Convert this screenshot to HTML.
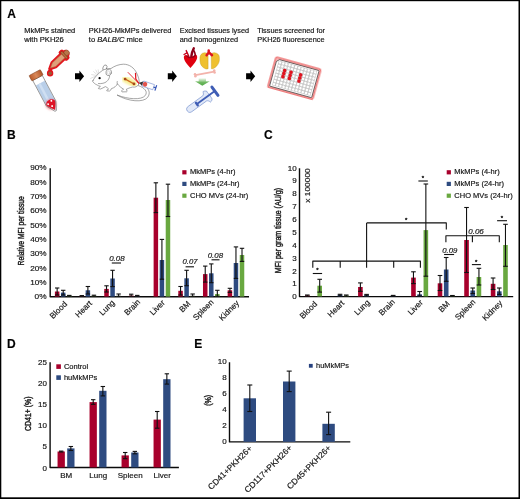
<!DOCTYPE html>
<html lang="en"><head><meta charset="utf-8"><title>Figure</title>
<style>
html,body{margin:0;padding:0;background:#fff;}
body{width:520px;height:499px;overflow:hidden;}
svg{display:block;font-family:"Liberation Sans",Arial,Helvetica,sans-serif;}
text{stroke:#222;stroke-width:.18px;}
</style></head><body>
<svg width="520" height="499" viewBox="0 0 520 499">
<rect x="0" y="0" width="520" height="499" fill="#000"/><rect x="1.3" y="1.2" width="517.2" height="496.1" fill="#fff"/>
<text x="7.3" y="17.5" font-size="12" font-weight="bold" fill="#000" >A</text>
<text x="7.0" y="138.75" font-size="12" font-weight="bold" fill="#000" >B</text>
<text x="264.0" y="138.85" font-size="12" font-weight="bold" fill="#000" >C</text>
<text x="7.0" y="347.8" font-size="12" font-weight="bold" fill="#000" >D</text>
<text x="194.2" y="347.8" font-size="12" font-weight="bold" fill="#000" >E</text>
<text x="24.2" y="33.1" font-size="7.2" textLength="51" lengthAdjust="spacingAndGlyphs" fill="#111" >MkMPs stained</text>
<text x="24.2" y="42.2" font-size="7.2" textLength="39.6" lengthAdjust="spacingAndGlyphs" fill="#111" >with PKH26</text>
<text x="88.8" y="33.1" font-size="7.2" textLength="82.7" lengthAdjust="spacingAndGlyphs" fill="#111" >PKH26-MkMPs delivered</text>
<text x="179.8" y="33.1" font-size="7.2" textLength="69.2" lengthAdjust="spacingAndGlyphs" fill="#111" >Excised tissues lysed</text>
<text x="179.8" y="42.2" font-size="7.2" textLength="58.3" lengthAdjust="spacingAndGlyphs" fill="#111" >and homogenized</text>
<text x="257.3" y="33.1" font-size="7.2" textLength="67.7" lengthAdjust="spacingAndGlyphs" fill="#111" >Tissues screened for</text>
<text x="257.3" y="42.2" font-size="7.2" textLength="67.3" lengthAdjust="spacingAndGlyphs" fill="#111" >PKH26 fluorescence</text>
<text x="88.8" y="42.2" font-size="7.2" fill="#111" textLength="53.9" lengthAdjust="spacingAndGlyphs">to <tspan font-style="italic">BALB/C</tspan> mice</text>
<polygon points="75,73.2  79.4,73.2 79.4,70.5 84.1,76.2 79.4,81.9 79.4,79.2 75,79.2" fill="#000"/>
<polygon points="167.8,73.2  172.20000000000002,73.2 172.20000000000002,70.5 176.9,76.2 172.20000000000002,81.9 172.20000000000002,79.2 167.8,79.2" fill="#000"/>
<polygon points="246.1,73.2  250.5,73.2 250.5,70.5 255.2,76.2 250.5,81.9 250.5,79.2 246.1,79.2" fill="#000"/>
<defs>
<filter id="gl" x="-30%" y="-30%" width="160%" height="160%"><feGaussianBlur stdDeviation="0.5"/></filter>
<filter id="gl2" x="-30%" y="-30%" width="160%" height="160%"><feGaussianBlur stdDeviation="0.9"/></filter>
<linearGradient id="ga" x1="0" y1="0" x2="0" y2="1"><stop offset="0" stop-color="#7cc06a" stop-opacity="0.1"/><stop offset="0.55" stop-color="#5fb04f" stop-opacity="0.9"/><stop offset="1" stop-color="#4fa843"/></linearGradient>
<linearGradient id="capg" x1="0" y1="0" x2="1" y2="0"><stop offset="0" stop-color="#b85a2a"/><stop offset="0.5" stop-color="#d9895a"/><stop offset="1" stop-color="#b05426"/></linearGradient>
</defs>
<!-- tube -->
<g transform="translate(34.65 72.6) rotate(-28)">
  <path d="M-5.4 6H5.4V35L1.6 43.4Q0.6 44.4 -0.4 43.4L-5.4 35Z" fill="#fff"/>
  <path d="M-5 12H5V35L0.6 43L-5 35Z" fill="#b9cfe9"/>
  <path d="M-2.2 12H0.2V34H-2.2Z" fill="#cfdff2"/>
  <circle cx="-0.5" cy="35.6" r="5.2" fill="#ee2a35" opacity="0.55" filter="url(#gl2)"/>
  <path d="M-4.6 33.6C-3.4 30.2 2.8 30 4.6 33.6L4.6 35.4L0.6 42.6L-4.6 35.4Z" fill="#de1426"/>
  <circle cx="1.5" cy="32.8" r="0.95" fill="#fff"/><circle cx="-2.9" cy="34.2" r="0.95" fill="#fff"/><circle cx="-0.3" cy="37.8" r="0.95" fill="#fff"/>
  <path d="M-5.4 6H5.4V35L1.6 43.4Q0.6 44.4 -0.4 43.4L-5.4 35Z" fill="none" stroke="#5a5a5a" stroke-width="0.55" stroke-linejoin="round"/>
  <rect x="-6.4" y="0" width="12.8" height="6.1" rx="0.8" fill="url(#capg)" stroke="#7a3a18" stroke-width="0.5"/>
</g>
<!-- dropper -->
<g filter="url(#gl)" fill="#e3141e" stroke="#e3141e" stroke-width="3.8" stroke-linejoin="round">
  <g transform="translate(50.4 68.1) rotate(46.6)"><path d="M0 0L-2.5 -5V-17.9H-4.2V-19.8H-2C-3.6 -24 3.6 -24 2 -19.8H4.2V-17.9H2.5V-5Z"/></g>
  <circle cx="50.1" cy="73.2" r="1.3"/><path d="M50.4 68.1L50.1 73.2"/>
</g>
<g transform="translate(50.4 68.1) rotate(46.6)">
  <path d="M0 0L-2.5 -5V-17.9H2.5V-5Z" fill="#dfa079" stroke="#a8683f" stroke-width="0.5" stroke-linejoin="round"/>
  <circle cx="0" cy="-22.3" r="2.7" fill="#b8764a" stroke="#7a4526" stroke-width="0.4"/>
  <rect x="-4.3" y="-20" width="8.6" height="2.1" fill="#b8703f" stroke="#6e3b1e" stroke-width="0.5"/>
</g>
<circle cx="50.1" cy="73.2" r="1.8" fill="#9a5a38"/>
<!-- mouse -->
<g fill="#fff" stroke="#777" stroke-width="0.65" stroke-linejoin="round" stroke-linecap="round">
  <path d="M139.6 83.2C147 85.5 151.8 91.5 147.8 97.2C143.5 103 128 101.5 117 95C128 99.3 141.3 100.3 145.2 95.6C148 91.8 145 87.8 138.3 85.6Z"/>
  <ellipse cx="104.9" cy="67.7" rx="1.9" ry="2.9" transform="rotate(25 104.9 67.7)"/>
  <path d="M92.8 80.8C94.5 77.3 98.2 73.3 102.8 70.2C105.5 68.8 108.5 68.7 111 68.5C114.5 66 119 64.3 123.4 64.2C129.5 64.2 134.3 68 136.6 73C138.6 77.2 139.8 80.8 138.9 84C137.6 86.6 135 87.6 132.6 87C130 87.6 127.5 88.6 126 89.6C127.2 90.4 127.6 91.3 126.6 91.8L122 91.9C121 91.2 122 89.8 123.6 89.2C121.5 88 119 86 117.4 83.8C116.5 86 114 88 111.4 88.6C111 89.8 110.6 90.6 109.6 91L106.8 90.9C106.4 90 107.6 89.3 108.6 89C107.8 88 106.6 87 105.4 86.6C104 87.4 102 88.4 100.6 89L98.4 88.6C98.4 87.6 99.6 87 100.4 86.4C99 86 97.6 85.4 96.8 84.8C95.2 84.2 93.8 83 93.2 82C92.6 81.6 92.5 81.2 92.8 80.8Z"/>
  <path d="M98.4 83.6C101.5 83.8 104.8 83.2 106.6 81.6C108.4 80 109.4 78.2 109.6 76.4" fill="none"/>
  <ellipse cx="108.7" cy="72.4" rx="2.7" ry="3.3" transform="rotate(15 108.7 72.4)"/>
  <ellipse cx="108.6" cy="72.6" rx="1.3" ry="1.8" transform="rotate(15 108.6 72.6)" stroke="#bbb" stroke-width="0.4"/>
  <path d="M117.4 83.8C117 82.8 117 82 117.3 81.4" fill="none"/>
</g>
<g stroke="#bbb" stroke-width="0.45" fill="none" stroke-linecap="round">
  <path d="M96 76L90.6 78.4M96.4 75.4L91.6 74.6M97 74.6L93.6 71.6M97.8 73.8L95.8 70M98.6 73.2L98.2 69.8"/>
</g>
<circle cx="99.6" cy="78.2" r="1.15" fill="#000"/>
<path d="M125.2 79.1L134 83.9" stroke="#f8ef96" stroke-width="6.4" stroke-linecap="round" fill="none" filter="url(#gl2)"/>
<line x1="125.2" y1="79.1" x2="134" y2="83.9" stroke="#cc6a20" stroke-width="1.2"/>
<circle cx="125.1" cy="79.1" r="1.4" fill="#a84a1a"/><circle cx="134" cy="83.9" r="1.4" fill="#a84a1a"/>
<path d="M127.8 72.2L139 83.6" stroke="#e0202a" stroke-width="0.9" fill="none"/>
<path d="M135.5 72.9L135.8 79L139 83.5" stroke="#e0141e" stroke-width="1.25" fill="none" stroke-linejoin="round"/>
<g transform="translate(139.3 82.4) rotate(18.5)">
  <polygon points="0,0.3 3.8,-2.5 3.8,2.6" fill="#333"/>
  <rect x="3.8" y="-2.7" width="11.3" height="5.4" fill="#fff" stroke="#6c86cc" stroke-width="0.55"/>
  <circle cx="6" cy="0" r="2.3" fill="#e2544c"/>
  <path d="M15.1 0H17.4M17.4 -2.8V2.8" stroke="#3858b8" stroke-width="1.2" fill="none"/>
</g>
<!-- heart -->
<path d="M188.7 56L186.2 50.6M187 52.8L184 54.5" stroke="#c2001a" stroke-width="1.4" stroke-linecap="round" fill="none"/>
<path d="M191.3 56.4C191.6 53.6 192.3 51 193.8 48.2" stroke="#8e0018" stroke-width="2.4" stroke-linecap="round" fill="none"/>
<path d="M193.4 50C194.6 51.8 195.3 53.6 195.4 55.4" stroke="#8e0018" stroke-width="1.7" stroke-linecap="round" fill="none"/>
<path d="M183.9 58C183.6 56 184.6 55 185.8 55C187.4 55.4 188.8 57 190.4 57.2C192.4 57.2 194.4 55 195.8 54.8C197 55.2 197.4 56.6 197.1 58C196.6 60 195.6 61.8 194.6 63.1C193.2 65 191.6 66.6 190.4 67.9C189 66.6 187.4 64.8 186.2 63.1C185 61.4 184.2 59.8 183.9 58Z" fill="#e0000f"/>
<path d="M187 55.9C188.6 57.8 192.6 58.6 195.5 55.2" stroke="#9a0018" stroke-width="1.5" stroke-linecap="round" fill="none"/>
<!-- lungs -->
<g fill="#efc030" stroke="#c39a22" stroke-width="0.4" stroke-linejoin="round">
  <path d="M204.4 52.7C203 52.9 201.8 53.5 201 54.5C200.2 55.6 199.9 56.8 199.9 58C199.9 59.6 200 61.2 200.2 62.5C200.6 64.2 201.2 65.5 202.2 66.5C203.4 67.8 204.8 68.7 206.4 69C207 69 207.6 68.9 208.1 68.7V56.1C208 55 207.7 54.2 207.2 53.5C206.4 52.9 205.4 52.6 204.4 52.7Z"/>
  <path d="M214.5 52.7C215.8 52.9 217 53.3 217.9 54.1C218.8 54.9 219.2 55.9 219.3 57C219.4 58.4 219.4 59.6 219.3 60.8C219 62.8 218 64.6 216.8 65.9C215.6 67.2 214.3 68.2 212.8 68.7C212.3 68.8 211.8 68.8 211.4 68.7L211.2 56.1C211.3 55 211.6 54 212 53.3C212.8 52.8 213.6 52.6 214.5 52.7Z"/>
</g>
<path d="M208.7 50.5V52.6M208.9 52.4L206.6 55.2M208.9 52.4L212 55.2" stroke="#dc1420" stroke-width="2.5" stroke-linecap="round" stroke-linejoin="round" fill="none"/>
<!-- bone -->
<path d="M195.4 75.1L214.2 71.6" stroke="#f3b3ab" stroke-width="1.9" stroke-linecap="round"/>
<circle cx="195" cy="74.2" r="1.25" fill="#f3b3ab"/><circle cx="195.4" cy="76.3" r="1.25" fill="#f3b3ab"/>
<circle cx="214.2" cy="70.5" r="1.25" fill="#f3b3ab"/><circle cx="214.6" cy="72.6" r="1.25" fill="#f3b3ab"/>
<!-- green arrow -->
<polygon points="198.7,78.2 206,78.2 206,81.3 209.8,81.3 202.3,85.8 195,81.3 198.7,81.3" fill="url(#ga)"/>
<!-- homogenizer -->
<g transform="translate(187.3 111) rotate(-36)">
  <path d="M3.2 -3.2H21.5C22.8 -3.4 23.6 -5 24 -6.4C25.4 -6.4 26.6 -5.6 27.4 -4.4C27 -3.6 27 -2.6 27.4 -1.6V1.6C27 2.6 27 3.6 27.4 4.4C26.6 5.6 25.4 6.4 24 6.4C23.6 5 22.8 3.4 21.5 3.2H3.2C-1.1 3.2 -1.1 -3.2 3.2 -3.2Z" fill="#e2e9f8" stroke="#6f8bcc" stroke-width="0.6"/>
  <path d="M11.5 0H34" stroke="#3f5db5" stroke-width="1.8"/>
  <path d="M11.8 -1.5V1.5" stroke="#3f5db5" stroke-width="2.4" stroke-linecap="round"/>
  <path d="M34 -4.9V5.4" stroke="#3f5db5" stroke-width="3" stroke-linecap="round"/>
</g>
<!-- plate -->
<g transform="translate(276 56.9) rotate(15.5)">
  <rect x="0" y="0" width="46.7" height="31.3" rx="1.8" fill="#f8b4b4" stroke="#ee7a7a" stroke-width="1.5" filter="url(#gl)"/>
  <path d="M4.2 1.7H44.4Q45.2 1.7 45.2 2.5V29Q45.2 29.8 44.4 29.8H2.4Q1.6 29.8 1.6 29V4.2Z" fill="#fff" stroke="#222" stroke-width="0.6"/>
  <rect x="3.7" y="2.8" width="39.9" height="25.6" fill="#cacaca"/>
  <g fill="#fff" stroke="none">
  <circle cx="5.4" cy="4.4" r="1.22"/><circle cx="5.4" cy="7.6" r="1.22"/><circle cx="5.4" cy="10.8" r="1.22"/><circle cx="5.4" cy="14.0" r="1.22"/><circle cx="5.4" cy="17.2" r="1.22"/><circle cx="5.4" cy="20.4" r="1.22"/><circle cx="5.4" cy="23.6" r="1.22"/><circle cx="5.4" cy="26.8" r="1.22"/><circle cx="8.7" cy="4.4" r="1.22"/><circle cx="8.7" cy="7.6" r="1.22"/><circle cx="8.7" cy="10.8" r="1.22"/><circle cx="8.7" cy="14.0" r="1.22"/><circle cx="8.7" cy="17.2" r="1.22"/><circle cx="8.7" cy="20.4" r="1.22"/><circle cx="8.7" cy="23.6" r="1.22"/><circle cx="8.7" cy="26.8" r="1.22"/><circle cx="12.0" cy="4.4" r="1.22"/><circle cx="12.0" cy="7.6" r="1.22"/><circle cx="12.0" cy="20.4" r="1.22"/><circle cx="12.0" cy="23.6" r="1.22"/><circle cx="12.0" cy="26.8" r="1.22"/><circle cx="15.3" cy="4.4" r="1.22"/><circle cx="15.3" cy="7.6" r="1.22"/><circle cx="15.3" cy="10.8" r="1.22"/><circle cx="15.3" cy="14.0" r="1.22"/><circle cx="15.3" cy="17.2" r="1.22"/><circle cx="15.3" cy="20.4" r="1.22"/><circle cx="15.3" cy="23.6" r="1.22"/><circle cx="15.3" cy="26.8" r="1.22"/><circle cx="18.6" cy="4.4" r="1.22"/><circle cx="18.6" cy="7.6" r="1.22"/><circle cx="18.6" cy="20.4" r="1.22"/><circle cx="18.6" cy="23.6" r="1.22"/><circle cx="18.6" cy="26.8" r="1.22"/><circle cx="22.0" cy="4.4" r="1.22"/><circle cx="22.0" cy="7.6" r="1.22"/><circle cx="22.0" cy="10.8" r="1.22"/><circle cx="22.0" cy="14.0" r="1.22"/><circle cx="22.0" cy="17.2" r="1.22"/><circle cx="22.0" cy="20.4" r="1.22"/><circle cx="22.0" cy="23.6" r="1.22"/><circle cx="22.0" cy="26.8" r="1.22"/><circle cx="25.3" cy="4.4" r="1.22"/><circle cx="25.3" cy="7.6" r="1.22"/><circle cx="25.3" cy="10.8" r="1.22"/><circle cx="25.3" cy="14.0" r="1.22"/><circle cx="25.3" cy="17.2" r="1.22"/><circle cx="25.3" cy="20.4" r="1.22"/><circle cx="25.3" cy="23.6" r="1.22"/><circle cx="25.3" cy="26.8" r="1.22"/><circle cx="28.6" cy="4.4" r="1.22"/><circle cx="28.6" cy="7.6" r="1.22"/><circle cx="28.6" cy="20.4" r="1.22"/><circle cx="28.6" cy="23.6" r="1.22"/><circle cx="28.6" cy="26.8" r="1.22"/><circle cx="31.9" cy="4.4" r="1.22"/><circle cx="31.9" cy="7.6" r="1.22"/><circle cx="31.9" cy="10.8" r="1.22"/><circle cx="31.9" cy="14.0" r="1.22"/><circle cx="31.9" cy="17.2" r="1.22"/><circle cx="31.9" cy="20.4" r="1.22"/><circle cx="31.9" cy="23.6" r="1.22"/><circle cx="31.9" cy="26.8" r="1.22"/><circle cx="35.2" cy="4.4" r="1.22"/><circle cx="35.2" cy="7.6" r="1.22"/><circle cx="35.2" cy="10.8" r="1.22"/><circle cx="35.2" cy="14.0" r="1.22"/><circle cx="35.2" cy="17.2" r="1.22"/><circle cx="35.2" cy="20.4" r="1.22"/><circle cx="35.2" cy="23.6" r="1.22"/><circle cx="35.2" cy="26.8" r="1.22"/><circle cx="38.6" cy="4.4" r="1.22"/><circle cx="38.6" cy="7.6" r="1.22"/><circle cx="38.6" cy="10.8" r="1.22"/><circle cx="38.6" cy="14.0" r="1.22"/><circle cx="38.6" cy="17.2" r="1.22"/><circle cx="38.6" cy="20.4" r="1.22"/><circle cx="38.6" cy="23.6" r="1.22"/><circle cx="38.6" cy="26.8" r="1.22"/><circle cx="41.9" cy="4.4" r="1.22"/><circle cx="41.9" cy="7.6" r="1.22"/><circle cx="41.9" cy="10.8" r="1.22"/><circle cx="41.9" cy="14.0" r="1.22"/><circle cx="41.9" cy="17.2" r="1.22"/><circle cx="41.9" cy="20.4" r="1.22"/><circle cx="41.9" cy="23.6" r="1.22"/><circle cx="41.9" cy="26.8" r="1.22"/>
  </g>
  <circle cx="12.0" cy="10.8" r="1.8" fill="#e01420" stroke="none"/><circle cx="12.0" cy="14.0" r="1.8" fill="#e01420" stroke="none"/><circle cx="12.0" cy="17.2" r="1.8" fill="#e01420" stroke="none"/><circle cx="18.6" cy="10.8" r="1.8" fill="#e01420" stroke="none"/><circle cx="18.6" cy="14.0" r="1.8" fill="#e01420" stroke="none"/><circle cx="18.6" cy="17.2" r="1.8" fill="#e01420" stroke="none"/><circle cx="28.6" cy="10.8" r="1.8" fill="#e01420" stroke="none"/><circle cx="28.6" cy="14.0" r="1.8" fill="#e01420" stroke="none"/><circle cx="28.6" cy="17.2" r="1.8" fill="#e01420" stroke="none"/>
</g>

<rect x="182.3" y="170.2" width="4.2" height="4.2" fill="#A8002C"/>
<text x="190" y="174.45" font-size="7.5" fill="#111" >MkMPs (4-hr)</text>
<rect x="182.3" y="181.8" width="4.2" height="4.2" fill="#2E4B80"/>
<text x="190" y="186.05" font-size="7.5" fill="#111" >MkMPs (24-hr)</text>
<rect x="182.3" y="193.6" width="4.2" height="4.2" fill="#69A840"/>
<text x="190" y="197.85" font-size="7.5" fill="#111" >CHO MVs (24-hr)</text>
<path d="M50.2 168.2V296.8H249.0" fill="none" stroke="#0a0a0a" stroke-width="1.4" stroke-linejoin="round"/>
<text x="46.6" y="299.1" font-size="8" text-anchor="end" textLength="12.0" lengthAdjust="spacingAndGlyphs" fill="#111" >0%</text>
<text x="46.6" y="284.8" font-size="8" text-anchor="end" textLength="16.4" lengthAdjust="spacingAndGlyphs" fill="#111" >10%</text>
<text x="46.6" y="270.5" font-size="8" text-anchor="end" textLength="16.4" lengthAdjust="spacingAndGlyphs" fill="#111" >20%</text>
<text x="46.6" y="256.2" font-size="8" text-anchor="end" textLength="16.4" lengthAdjust="spacingAndGlyphs" fill="#111" >30%</text>
<text x="46.6" y="241.9" font-size="8" text-anchor="end" textLength="16.4" lengthAdjust="spacingAndGlyphs" fill="#111" >40%</text>
<text x="46.6" y="227.6" font-size="8" text-anchor="end" textLength="16.4" lengthAdjust="spacingAndGlyphs" fill="#111" >50%</text>
<text x="46.6" y="213.3" font-size="8" text-anchor="end" textLength="16.4" lengthAdjust="spacingAndGlyphs" fill="#111" >60%</text>
<text x="46.6" y="199.0" font-size="8" text-anchor="end" textLength="16.4" lengthAdjust="spacingAndGlyphs" fill="#111" >70%</text>
<text x="46.6" y="184.7" font-size="8" text-anchor="end" textLength="16.4" lengthAdjust="spacingAndGlyphs" fill="#111" >80%</text>
<text x="46.6" y="170.4" font-size="8" text-anchor="end" textLength="16.4" lengthAdjust="spacingAndGlyphs" fill="#111" >90%</text>
<text transform="translate(24.0 230.8) rotate(-90)" font-size="8.7" text-anchor="middle" fill="#111" textLength="69.2" lengthAdjust="spacingAndGlyphs" style="stroke-width:.42px">Relative MFI per tissue</text>
<rect x="54.90" y="291.50" width="4.50" height="5.10" fill="#A8002C"/>
<line x1="57.15" y1="288" x2="57.15" y2="295" stroke="#111" stroke-width="1.1" />
<line x1="54.95" y1="288" x2="59.35" y2="288" stroke="#111" stroke-width="1.1" />
<line x1="54.95" y1="295" x2="59.35" y2="295" stroke="#111" stroke-width="1.1" />
<rect x="60.95" y="292.60" width="4.50" height="4.00" fill="#2E4B80"/>
<line x1="63.2" y1="290.3" x2="63.2" y2="295" stroke="#111" stroke-width="1.1" />
<line x1="61.0" y1="290.3" x2="65.4" y2="290.3" stroke="#111" stroke-width="1.1" />
<line x1="61.0" y1="295" x2="65.4" y2="295" stroke="#111" stroke-width="1.1" />
<rect x="67.00" y="295.80" width="4.50" height="0.80" fill="#69A840"/>
<line x1="69.25" y1="295.4" x2="69.25" y2="296.2" stroke="#111" stroke-width="1.1" />
<line x1="67.05" y1="295.4" x2="71.45" y2="295.4" stroke="#111" stroke-width="1.1" />
<line x1="67.05" y1="296.2" x2="71.45" y2="296.2" stroke="#111" stroke-width="1.1" />
<text x="67.6" y="304.65" font-size="8.1" text-anchor="end" transform="rotate(-45 67.6 304.65)" fill="#111" >Blood</text>
<rect x="79.58" y="296.00" width="4.50" height="0.60" fill="#A8002C"/>
<line x1="81.83" y1="295.6" x2="81.83" y2="296.3" stroke="#111" stroke-width="1.1" />
<line x1="79.63" y1="295.6" x2="84.03" y2="295.6" stroke="#111" stroke-width="1.1" />
<line x1="79.63" y1="296.3" x2="84.03" y2="296.3" stroke="#111" stroke-width="1.1" />
<rect x="85.63" y="290.30" width="4.50" height="6.30" fill="#2E4B80"/>
<line x1="87.88" y1="286.5" x2="87.88" y2="294" stroke="#111" stroke-width="1.1" />
<line x1="85.68" y1="286.5" x2="90.08" y2="286.5" stroke="#111" stroke-width="1.1" />
<line x1="85.68" y1="294" x2="90.08" y2="294" stroke="#111" stroke-width="1.1" />
<rect x="91.68" y="295.80" width="4.50" height="0.80" fill="#69A840"/>
<line x1="93.93" y1="295.2" x2="93.93" y2="296.3" stroke="#111" stroke-width="1.1" />
<line x1="91.73" y1="295.2" x2="96.13" y2="295.2" stroke="#111" stroke-width="1.1" />
<line x1="91.73" y1="296.3" x2="96.13" y2="296.3" stroke="#111" stroke-width="1.1" />
<text x="92.52" y="303.88" font-size="8.1" text-anchor="end" transform="rotate(-45 92.52 303.88)" fill="#111" >Heart</text>
<rect x="104.26" y="288.90" width="4.50" height="7.70" fill="#A8002C"/>
<line x1="106.51" y1="285.8" x2="106.51" y2="292" stroke="#111" stroke-width="1.1" />
<line x1="104.31" y1="285.8" x2="108.71" y2="285.8" stroke="#111" stroke-width="1.1" />
<line x1="104.31" y1="292" x2="108.71" y2="292" stroke="#111" stroke-width="1.1" />
<rect x="110.31" y="278.50" width="4.50" height="18.10" fill="#2E4B80"/>
<line x1="112.56" y1="270.3" x2="112.56" y2="286.6" stroke="#111" stroke-width="1.1" />
<line x1="110.36" y1="270.3" x2="114.76" y2="270.3" stroke="#111" stroke-width="1.1" />
<line x1="110.36" y1="286.6" x2="114.76" y2="286.6" stroke="#111" stroke-width="1.1" />
<rect x="116.36" y="296.20" width="4.50" height="0.40" fill="#69A840"/>
<line x1="118.61" y1="294" x2="118.61" y2="296.3" stroke="#111" stroke-width="1.1" />
<line x1="116.41" y1="294" x2="120.81" y2="294" stroke="#111" stroke-width="1.1" />
<line x1="116.41" y1="296.3" x2="120.81" y2="296.3" stroke="#111" stroke-width="1.1" />
<text x="115.3" y="303.2" font-size="8.1" text-anchor="end" transform="rotate(-45 115.3 303.2)" fill="#111" >Lung</text>
<rect x="128.94" y="295.60" width="4.50" height="1.00" fill="#A8002C"/>
<line x1="131.19" y1="294.2" x2="131.19" y2="296.3" stroke="#111" stroke-width="1.1" />
<line x1="128.99" y1="294.2" x2="133.39" y2="294.2" stroke="#111" stroke-width="1.1" />
<line x1="128.99" y1="296.3" x2="133.39" y2="296.3" stroke="#111" stroke-width="1.1" />
<rect x="134.99" y="296.00" width="4.50" height="0.60" fill="#2E4B80"/>
<line x1="137.24" y1="295.4" x2="137.24" y2="296.3" stroke="#111" stroke-width="1.1" />
<line x1="135.04" y1="295.4" x2="139.44" y2="295.4" stroke="#111" stroke-width="1.1" />
<line x1="135.04" y1="296.3" x2="139.44" y2="296.3" stroke="#111" stroke-width="1.1" />
<text x="140.82" y="302.49" font-size="8.1" text-anchor="end" transform="rotate(-45 140.82 302.49)" fill="#111" >Brain</text>
<rect x="153.62" y="197.70" width="4.50" height="98.90" fill="#A8002C"/>
<line x1="155.87" y1="182.8" x2="155.87" y2="212.6" stroke="#111" stroke-width="1.1" />
<line x1="153.67" y1="182.8" x2="158.07" y2="182.8" stroke="#111" stroke-width="1.1" />
<line x1="153.67" y1="212.6" x2="158.07" y2="212.6" stroke="#111" stroke-width="1.1" />
<rect x="159.67" y="260.00" width="4.50" height="36.60" fill="#2E4B80"/>
<line x1="161.92" y1="239.4" x2="161.92" y2="279.2" stroke="#111" stroke-width="1.1" />
<line x1="159.72" y1="239.4" x2="164.12" y2="239.4" stroke="#111" stroke-width="1.1" />
<line x1="159.72" y1="279.2" x2="164.12" y2="279.2" stroke="#111" stroke-width="1.1" />
<rect x="165.72" y="200.00" width="4.50" height="96.60" fill="#69A840"/>
<line x1="167.97" y1="184.2" x2="167.97" y2="216.5" stroke="#111" stroke-width="1.1" />
<line x1="165.77" y1="184.2" x2="170.17" y2="184.2" stroke="#111" stroke-width="1.1" />
<line x1="165.77" y1="216.5" x2="170.17" y2="216.5" stroke="#111" stroke-width="1.1" />
<text x="165.45" y="303.35" font-size="8.1" text-anchor="end" transform="rotate(-45 165.45 303.35)" fill="#111" >Liver</text>
<rect x="178.30" y="290.80" width="4.50" height="5.80" fill="#A8002C"/>
<line x1="180.55" y1="286.5" x2="180.55" y2="295" stroke="#111" stroke-width="1.1" />
<line x1="178.35" y1="286.5" x2="182.75" y2="286.5" stroke="#111" stroke-width="1.1" />
<line x1="178.35" y1="295" x2="182.75" y2="295" stroke="#111" stroke-width="1.1" />
<rect x="184.35" y="278.30" width="4.50" height="18.30" fill="#2E4B80"/>
<line x1="186.6" y1="270.3" x2="186.6" y2="285.7" stroke="#111" stroke-width="1.1" />
<line x1="184.4" y1="270.3" x2="188.8" y2="270.3" stroke="#111" stroke-width="1.1" />
<line x1="184.4" y1="285.7" x2="188.8" y2="285.7" stroke="#111" stroke-width="1.1" />
<rect x="190.40" y="296.20" width="4.50" height="0.40" fill="#69A840"/>
<line x1="192.65" y1="294" x2="192.65" y2="296.3" stroke="#111" stroke-width="1.1" />
<line x1="190.45" y1="294" x2="194.85" y2="294" stroke="#111" stroke-width="1.1" />
<line x1="190.45" y1="296.3" x2="194.85" y2="296.3" stroke="#111" stroke-width="1.1" />
<text x="190.99" y="304.23" font-size="8.1" text-anchor="end" transform="rotate(-45 190.99 304.23)" fill="#111" >BM</text>
<rect x="202.98" y="274.10" width="4.50" height="22.50" fill="#A8002C"/>
<line x1="205.23" y1="266.1" x2="205.23" y2="282.1" stroke="#111" stroke-width="1.1" />
<line x1="203.03" y1="266.1" x2="207.43" y2="266.1" stroke="#111" stroke-width="1.1" />
<line x1="203.03" y1="282.1" x2="207.43" y2="282.1" stroke="#111" stroke-width="1.1" />
<rect x="209.03" y="273.30" width="4.50" height="23.30" fill="#2E4B80"/>
<line x1="211.28" y1="263.9" x2="211.28" y2="282.7" stroke="#111" stroke-width="1.1" />
<line x1="209.08" y1="263.9" x2="213.48" y2="263.9" stroke="#111" stroke-width="1.1" />
<line x1="209.08" y1="282.7" x2="213.48" y2="282.7" stroke="#111" stroke-width="1.1" />
<rect x="215.08" y="294.00" width="4.50" height="2.60" fill="#69A840"/>
<line x1="217.33" y1="290.3" x2="217.33" y2="296.3" stroke="#111" stroke-width="1.1" />
<line x1="215.13" y1="290.3" x2="219.53" y2="290.3" stroke="#111" stroke-width="1.1" />
<line x1="215.13" y1="296.3" x2="219.53" y2="296.3" stroke="#111" stroke-width="1.1" />
<text x="214.12" y="302.82" font-size="8.1" text-anchor="end" transform="rotate(-45 214.12 302.82)" fill="#111" >Spleen</text>
<rect x="227.66" y="290.30" width="4.50" height="6.30" fill="#A8002C"/>
<line x1="229.91" y1="288.3" x2="229.91" y2="292.4" stroke="#111" stroke-width="1.1" />
<line x1="227.71" y1="288.3" x2="232.11" y2="288.3" stroke="#111" stroke-width="1.1" />
<line x1="227.71" y1="292.4" x2="232.11" y2="292.4" stroke="#111" stroke-width="1.1" />
<rect x="233.71" y="263.00" width="4.50" height="33.60" fill="#2E4B80"/>
<line x1="235.96" y1="246.9" x2="235.96" y2="278.4" stroke="#111" stroke-width="1.1" />
<line x1="233.76" y1="246.9" x2="238.16" y2="246.9" stroke="#111" stroke-width="1.1" />
<line x1="233.76" y1="278.4" x2="238.16" y2="278.4" stroke="#111" stroke-width="1.1" />
<rect x="239.76" y="255.00" width="4.50" height="41.60" fill="#69A840"/>
<line x1="242.01" y1="248.3" x2="242.01" y2="261.4" stroke="#111" stroke-width="1.1" />
<line x1="239.81" y1="248.3" x2="244.21" y2="248.3" stroke="#111" stroke-width="1.1" />
<line x1="239.81" y1="261.4" x2="244.21" y2="261.4" stroke="#111" stroke-width="1.1" />
<text x="239.69" y="303.65" font-size="8.1" text-anchor="end" transform="rotate(-45 239.69 303.65)" fill="#111" >Kidney</text>
<text x="116.9" y="261" font-size="7.6" text-anchor="middle" font-style="italic" textLength="15.5" lengthAdjust="spacingAndGlyphs" fill="#111" >0.08</text>
<line x1="111.8" y1="263" x2="121" y2="263" stroke="#111" stroke-width="1.1" />
<text x="190" y="264.4" font-size="7.6" text-anchor="middle" font-style="italic" textLength="15" lengthAdjust="spacingAndGlyphs" fill="#111" >0.07</text>
<line x1="185.6" y1="266.8" x2="194" y2="266.8" stroke="#111" stroke-width="1.1" />
<text x="215.4" y="257.6" font-size="7.6" text-anchor="middle" font-style="italic" textLength="15.3" lengthAdjust="spacingAndGlyphs" fill="#111" >0.08</text>
<line x1="211.5" y1="259.8" x2="219.5" y2="259.8" stroke="#111" stroke-width="1.1" />
<rect x="446.7" y="170.2" width="4.2" height="4.2" fill="#A8002C"/>
<text x="454.3" y="174.45" font-size="7.5" fill="#111" >MkMPs (4-hr)</text>
<rect x="446.7" y="181.8" width="4.2" height="4.2" fill="#2E4B80"/>
<text x="454.3" y="186.05" font-size="7.5" fill="#111" >MkMPs (24-hr)</text>
<rect x="446.7" y="193.6" width="4.2" height="4.2" fill="#69A840"/>
<text x="454.3" y="197.85" font-size="7.5" fill="#111" >CHO MVs (24-hr)</text>
<path d="M299.5 168.2V296.6H513.2" fill="none" stroke="#0a0a0a" stroke-width="1.4" stroke-linejoin="round"/>
<text x="296.7" y="299.3" font-size="8" text-anchor="end" fill="#111" >0</text>
<text x="296.7" y="286.43" font-size="8" text-anchor="end" fill="#111" >1</text>
<text x="296.7" y="273.56" font-size="8" text-anchor="end" fill="#111" >2</text>
<text x="296.7" y="260.69" font-size="8" text-anchor="end" fill="#111" >3</text>
<text x="296.7" y="247.82" font-size="8" text-anchor="end" fill="#111" >4</text>
<text x="296.7" y="234.95" font-size="8" text-anchor="end" fill="#111" >5</text>
<text x="296.7" y="222.08" font-size="8" text-anchor="end" fill="#111" >6</text>
<text x="296.7" y="209.21" font-size="8" text-anchor="end" fill="#111" >7</text>
<text x="296.7" y="196.34" font-size="8" text-anchor="end" fill="#111" >8</text>
<text x="296.7" y="183.47" font-size="8" text-anchor="end" fill="#111" >9</text>
<text x="296.7" y="170.6" font-size="8" text-anchor="end" fill="#111" >10</text>
<text transform="translate(281.1 230.6) rotate(-90)" font-size="8.7" text-anchor="middle" fill="#111" textLength="85.2" lengthAdjust="spacingAndGlyphs" style="stroke-width:.42px">MFI per gram tissue (AU/g)</text>
<text transform="translate(310.2 202.7) rotate(-90)" font-size="8" fill="#111" textLength="34.4" lengthAdjust="spacingAndGlyphs">x 100000</text>
<rect x="305.00" y="295.40" width="4.60" height="1.00" fill="#A8002C"/>
<line x1="307.3" y1="295.0" x2="307.3" y2="296.2" stroke="#111" stroke-width="1.1" />
<line x1="305.0" y1="295.0" x2="309.6" y2="295.0" stroke="#111" stroke-width="1.1" />
<line x1="305.0" y1="296.2" x2="309.6" y2="296.2" stroke="#111" stroke-width="1.1" />
<rect x="317.40" y="285.70" width="4.60" height="10.70" fill="#69A840"/>
<line x1="319.7" y1="279.3" x2="319.7" y2="292.1" stroke="#111" stroke-width="1.1" />
<line x1="317.4" y1="279.3" x2="322.0" y2="279.3" stroke="#111" stroke-width="1.1" />
<line x1="317.4" y1="292.1" x2="322.0" y2="292.1" stroke="#111" stroke-width="1.1" />
<text x="317.6" y="304.65" font-size="8.1" text-anchor="end" transform="rotate(-45 317.6 304.65)" fill="#111" >Blood</text>
<rect x="337.74" y="294.80" width="4.60" height="1.60" fill="#2E4B80"/>
<line x1="340.04" y1="294.3" x2="340.04" y2="296" stroke="#111" stroke-width="1.1" />
<line x1="337.74" y1="294.3" x2="342.34" y2="294.3" stroke="#111" stroke-width="1.1" />
<line x1="337.74" y1="296" x2="342.34" y2="296" stroke="#111" stroke-width="1.1" />
<rect x="343.94" y="295.50" width="4.60" height="0.90" fill="#69A840"/>
<line x1="346.24" y1="295.0" x2="346.24" y2="296.2" stroke="#111" stroke-width="1.1" />
<line x1="343.94" y1="295.0" x2="348.54" y2="295.0" stroke="#111" stroke-width="1.1" />
<line x1="343.94" y1="296.2" x2="348.54" y2="296.2" stroke="#111" stroke-width="1.1" />
<text x="344.85" y="303.65" font-size="8.1" text-anchor="end" transform="rotate(-45 344.85 303.65)" fill="#111" >Heart</text>
<rect x="358.08" y="287.00" width="4.60" height="9.40" fill="#A8002C"/>
<line x1="360.38" y1="282.9" x2="360.38" y2="291.3" stroke="#111" stroke-width="1.1" />
<line x1="358.08" y1="282.9" x2="362.68" y2="282.9" stroke="#111" stroke-width="1.1" />
<line x1="358.08" y1="291.3" x2="362.68" y2="291.3" stroke="#111" stroke-width="1.1" />
<rect x="364.28" y="294.90" width="4.60" height="1.50" fill="#2E4B80"/>
<line x1="366.58" y1="294.4" x2="366.58" y2="296" stroke="#111" stroke-width="1.1" />
<line x1="364.28" y1="294.4" x2="368.88" y2="294.4" stroke="#111" stroke-width="1.1" />
<line x1="364.28" y1="296" x2="368.88" y2="296" stroke="#111" stroke-width="1.1" />
<text x="370.36" y="303.01" font-size="8.1" text-anchor="end" transform="rotate(-45 370.36 303.01)" fill="#111" >Lung</text>
<rect x="390.82" y="295.80" width="4.60" height="0.60" fill="#2E4B80"/>
<line x1="393.12" y1="295.4" x2="393.12" y2="296.2" stroke="#111" stroke-width="1.1" />
<line x1="390.82" y1="295.4" x2="395.42" y2="295.4" stroke="#111" stroke-width="1.1" />
<line x1="390.82" y1="296.2" x2="395.42" y2="296.2" stroke="#111" stroke-width="1.1" />
<text x="395.35" y="302.58" font-size="8.1" text-anchor="end" transform="rotate(-45 395.35 302.58)" fill="#111" >Brain</text>
<rect x="411.16" y="277.60" width="4.60" height="18.80" fill="#A8002C"/>
<line x1="413.46" y1="271.8" x2="413.46" y2="283.6" stroke="#111" stroke-width="1.1" />
<line x1="411.16" y1="271.8" x2="415.76" y2="271.8" stroke="#111" stroke-width="1.1" />
<line x1="411.16" y1="283.6" x2="415.76" y2="283.6" stroke="#111" stroke-width="1.1" />
<rect x="417.36" y="294.30" width="4.60" height="2.10" fill="#2E4B80"/>
<line x1="419.66" y1="291.5" x2="419.66" y2="296" stroke="#111" stroke-width="1.1" />
<line x1="417.36" y1="291.5" x2="421.96" y2="291.5" stroke="#111" stroke-width="1.1" />
<line x1="417.36" y1="296" x2="421.96" y2="296" stroke="#111" stroke-width="1.1" />
<rect x="423.56" y="230.10" width="4.60" height="66.30" fill="#69A840"/>
<line x1="425.86" y1="184" x2="425.86" y2="276.2" stroke="#111" stroke-width="1.1" />
<line x1="423.56" y1="184" x2="428.16" y2="184" stroke="#111" stroke-width="1.1" />
<line x1="423.56" y1="276.2" x2="428.16" y2="276.2" stroke="#111" stroke-width="1.1" />
<text x="423.36" y="303.21" font-size="8.1" text-anchor="end" transform="rotate(-45 423.36 303.21)" fill="#111" >Liver</text>
<rect x="437.70" y="283.30" width="4.60" height="13.10" fill="#A8002C"/>
<line x1="440.0" y1="275.5" x2="440.0" y2="290.5" stroke="#111" stroke-width="1.1" />
<line x1="437.7" y1="275.5" x2="442.3" y2="275.5" stroke="#111" stroke-width="1.1" />
<line x1="437.7" y1="290.5" x2="442.3" y2="290.5" stroke="#111" stroke-width="1.1" />
<rect x="443.90" y="269.50" width="4.60" height="26.90" fill="#2E4B80"/>
<line x1="446.2" y1="257.5" x2="446.2" y2="281.3" stroke="#111" stroke-width="1.1" />
<line x1="443.9" y1="257.5" x2="448.5" y2="257.5" stroke="#111" stroke-width="1.1" />
<line x1="443.9" y1="281.3" x2="448.5" y2="281.3" stroke="#111" stroke-width="1.1" />
<rect x="450.10" y="295.90" width="4.60" height="0.50" fill="#69A840"/>
<line x1="452.4" y1="295.5" x2="452.4" y2="296.2" stroke="#111" stroke-width="1.1" />
<line x1="450.1" y1="295.5" x2="454.7" y2="295.5" stroke="#111" stroke-width="1.1" />
<line x1="450.1" y1="296.2" x2="454.7" y2="296.2" stroke="#111" stroke-width="1.1" />
<text x="450.37" y="304.28" font-size="8.1" text-anchor="end" transform="rotate(-45 450.37 304.28)" fill="#111" >BM</text>
<rect x="464.24" y="240.00" width="4.60" height="56.40" fill="#A8002C"/>
<line x1="466.54" y1="207.5" x2="466.54" y2="272.5" stroke="#111" stroke-width="1.1" />
<line x1="464.24" y1="207.5" x2="468.84" y2="207.5" stroke="#111" stroke-width="1.1" />
<line x1="464.24" y1="272.5" x2="468.84" y2="272.5" stroke="#111" stroke-width="1.1" />
<rect x="470.44" y="290.50" width="4.60" height="5.90" fill="#2E4B80"/>
<line x1="472.74" y1="288" x2="472.74" y2="293.6" stroke="#111" stroke-width="1.1" />
<line x1="470.44" y1="288" x2="475.04" y2="288" stroke="#111" stroke-width="1.1" />
<line x1="470.44" y1="293.6" x2="475.04" y2="293.6" stroke="#111" stroke-width="1.1" />
<rect x="476.64" y="277.00" width="4.60" height="19.40" fill="#69A840"/>
<line x1="478.94" y1="268.3" x2="478.94" y2="285" stroke="#111" stroke-width="1.1" />
<line x1="476.64" y1="268.3" x2="481.24" y2="268.3" stroke="#111" stroke-width="1.1" />
<line x1="476.64" y1="285" x2="481.24" y2="285" stroke="#111" stroke-width="1.1" />
<text x="476.0" y="302.69" font-size="8.1" text-anchor="end" transform="rotate(-45 476.0 302.69)" fill="#111" >Spleen</text>
<rect x="490.78" y="283.80" width="4.60" height="12.60" fill="#A8002C"/>
<line x1="493.08" y1="278" x2="493.08" y2="289.5" stroke="#111" stroke-width="1.1" />
<line x1="490.78" y1="278" x2="495.38" y2="278" stroke="#111" stroke-width="1.1" />
<line x1="490.78" y1="289.5" x2="495.38" y2="289.5" stroke="#111" stroke-width="1.1" />
<rect x="496.98" y="291.30" width="4.60" height="5.10" fill="#2E4B80"/>
<line x1="499.28" y1="288" x2="499.28" y2="294.4" stroke="#111" stroke-width="1.1" />
<line x1="496.98" y1="288" x2="501.58" y2="288" stroke="#111" stroke-width="1.1" />
<line x1="496.98" y1="294.4" x2="501.58" y2="294.4" stroke="#111" stroke-width="1.1" />
<rect x="503.18" y="245.00" width="4.60" height="51.40" fill="#69A840"/>
<line x1="505.48" y1="224.3" x2="505.48" y2="266.3" stroke="#111" stroke-width="1.1" />
<line x1="503.18" y1="224.3" x2="507.78" y2="224.3" stroke="#111" stroke-width="1.1" />
<line x1="503.18" y1="266.3" x2="507.78" y2="266.3" stroke="#111" stroke-width="1.1" />
<text x="502.95" y="303.72" font-size="8.1" text-anchor="end" transform="rotate(-45 502.95 303.72)" fill="#111" >Kidney</text>
<path d="M312.8 267.8V261.1H420.4V267.8M340.2 261.1V267.8M366.6 222.9V267.8M393.7 261.1V267.8M366.6 222.9H446.3V229.6M445.9 242.3V235.7H499.3V242.3M472.4 235.7V242.3" fill="none" stroke="#111" stroke-width="1.1" stroke-linejoin="round"/>
<text x="317.4" y="272.4" font-size="6" text-anchor="middle" fill="#000" style="stroke-width:.35px">*</text>
<line x1="312.8" y1="273.5" x2="322.1" y2="273.5" stroke="#111" stroke-width="1.1" />
<text x="423.0" y="179.9" font-size="6" text-anchor="middle" fill="#000" style="stroke-width:.35px">*</text>
<line x1="418.4" y1="181.0" x2="427.8" y2="181.0" stroke="#111" stroke-width="1.1" />
<text x="406.2" y="221.6" font-size="6" text-anchor="middle" fill="#000" style="stroke-width:.35px">*</text>
<text x="476.25" y="263.6" font-size="6" text-anchor="middle" fill="#000" style="stroke-width:.35px">*</text>
<line x1="471.9" y1="264.6" x2="480.9" y2="264.6" stroke="#111" stroke-width="1.1" />
<text x="502.0" y="219.8" font-size="6" text-anchor="middle" fill="#000" style="stroke-width:.35px">*</text>
<line x1="497.1" y1="220.7" x2="507" y2="220.7" stroke="#111" stroke-width="1.1" />
<text x="476" y="233.6" font-size="7.6" text-anchor="middle" font-style="italic" textLength="15.5" lengthAdjust="spacingAndGlyphs" fill="#111" >0.06</text>
<text x="449.8" y="252.6" font-size="7.6" text-anchor="middle" font-style="italic" textLength="15.2" lengthAdjust="spacingAndGlyphs" fill="#111" >0.09</text>
<line x1="444.1" y1="254.5" x2="454.1" y2="254.5" stroke="#111" stroke-width="1.1" />
<path d="M50.1 362.2V467.5H178.9" fill="none" stroke="#0a0a0a" stroke-width="1.4" stroke-linejoin="round"/>
<text x="47" y="470.5" font-size="8" text-anchor="end" fill="#111" >0</text>
<text x="47" y="449.4" font-size="8" text-anchor="end" fill="#111" >5</text>
<text x="47" y="428.3" font-size="8" text-anchor="end" fill="#111" >10</text>
<text x="47" y="407.2" font-size="8" text-anchor="end" fill="#111" >15</text>
<text x="47" y="386.1" font-size="8" text-anchor="end" fill="#111" >20</text>
<text x="47" y="365.0" font-size="8" text-anchor="end" fill="#111" >25</text>
<text transform="translate(31.2 413.7) rotate(-90)" font-size="8.7" text-anchor="middle" fill="#111" textLength="34.6" lengthAdjust="spacingAndGlyphs" style="stroke-width:.42px">CD41+ (%)</text>
<rect x="56.3" y="364.3" width="4.6" height="4.6" fill="#A8002C"/>
<text x="63.9" y="369.2" font-size="7.5" fill="#111" >Control</text>
<rect x="56.3" y="375.3" width="4.6" height="4.6" fill="#2E4B80"/>
<text x="63.9" y="379.9" font-size="7.5" fill="#111" >huMkMPs</text>
<rect x="57.55" y="451.50" width="7.30" height="15.90" fill="#A8002C"/>
<line x1="61.2" y1="451.1" x2="61.2" y2="452" stroke="#111" stroke-width="1.1" />
<line x1="59.0" y1="451.1" x2="63.4" y2="451.1" stroke="#111" stroke-width="1.1" />
<line x1="59.0" y1="452" x2="63.4" y2="452" stroke="#111" stroke-width="1.1" />
<rect x="67.20" y="448.40" width="7.30" height="19.00" fill="#2E4B80"/>
<line x1="70.85" y1="446.5" x2="70.85" y2="450.5" stroke="#111" stroke-width="1.1" />
<line x1="68.65" y1="446.5" x2="73.05" y2="446.5" stroke="#111" stroke-width="1.1" />
<line x1="68.65" y1="450.5" x2="73.05" y2="450.5" stroke="#111" stroke-width="1.1" />
<text x="66.2" y="477.9" font-size="8" text-anchor="middle" fill="#111" >BM</text>
<rect x="89.55" y="402.10" width="7.30" height="65.30" fill="#A8002C"/>
<line x1="93.2" y1="399.7" x2="93.2" y2="404.3" stroke="#111" stroke-width="1.1" />
<line x1="91.0" y1="399.7" x2="95.4" y2="399.7" stroke="#111" stroke-width="1.1" />
<line x1="91.0" y1="404.3" x2="95.4" y2="404.3" stroke="#111" stroke-width="1.1" />
<rect x="99.20" y="390.80" width="7.30" height="76.60" fill="#2E4B80"/>
<line x1="102.85" y1="386.5" x2="102.85" y2="395.9" stroke="#111" stroke-width="1.1" />
<line x1="100.65" y1="386.5" x2="105.05" y2="386.5" stroke="#111" stroke-width="1.1" />
<line x1="100.65" y1="395.9" x2="105.05" y2="395.9" stroke="#111" stroke-width="1.1" />
<text x="98.2" y="477.9" font-size="8" text-anchor="middle" fill="#111" >Lung</text>
<rect x="121.55" y="455.40" width="7.30" height="12.00" fill="#A8002C"/>
<line x1="125.2" y1="452.5" x2="125.2" y2="458.7" stroke="#111" stroke-width="1.1" />
<line x1="123.0" y1="452.5" x2="127.4" y2="452.5" stroke="#111" stroke-width="1.1" />
<line x1="123.0" y1="458.7" x2="127.4" y2="458.7" stroke="#111" stroke-width="1.1" />
<rect x="131.20" y="452.50" width="7.30" height="14.90" fill="#2E4B80"/>
<line x1="134.85" y1="451.4" x2="134.85" y2="453.8" stroke="#111" stroke-width="1.1" />
<line x1="132.65" y1="451.4" x2="137.05" y2="451.4" stroke="#111" stroke-width="1.1" />
<line x1="132.65" y1="453.8" x2="137.05" y2="453.8" stroke="#111" stroke-width="1.1" />
<text x="130.2" y="477.9" font-size="8" text-anchor="middle" fill="#111" >Spleen</text>
<rect x="153.55" y="419.60" width="7.30" height="47.80" fill="#A8002C"/>
<line x1="157.2" y1="411.5" x2="157.2" y2="428.2" stroke="#111" stroke-width="1.1" />
<line x1="155.0" y1="411.5" x2="159.4" y2="411.5" stroke="#111" stroke-width="1.1" />
<line x1="155.0" y1="428.2" x2="159.4" y2="428.2" stroke="#111" stroke-width="1.1" />
<rect x="163.20" y="379.20" width="7.30" height="88.20" fill="#2E4B80"/>
<line x1="166.85" y1="373.8" x2="166.85" y2="384.1" stroke="#111" stroke-width="1.1" />
<line x1="164.65" y1="373.8" x2="169.05" y2="373.8" stroke="#111" stroke-width="1.1" />
<line x1="164.65" y1="384.1" x2="169.05" y2="384.1" stroke="#111" stroke-width="1.1" />
<text x="162.2" y="477.9" font-size="8" text-anchor="middle" fill="#111" >Liver</text>
<path d="M229.5 362.2V441.9H350.3" fill="none" stroke="#0a0a0a" stroke-width="1.4" stroke-linejoin="round"/>
<text x="226.7" y="444.2" font-size="8" text-anchor="end" fill="#111" >0</text>
<text x="226.7" y="428.18" font-size="8" text-anchor="end" fill="#111" >2</text>
<text x="226.7" y="412.16" font-size="8" text-anchor="end" fill="#111" >4</text>
<text x="226.7" y="396.14" font-size="8" text-anchor="end" fill="#111" >6</text>
<text x="226.7" y="380.12" font-size="8" text-anchor="end" fill="#111" >8</text>
<text x="226.7" y="364.1" font-size="8" text-anchor="end" fill="#111" >10</text>
<text transform="translate(211.2 400.3) rotate(-90)" font-size="8.7" text-anchor="middle" fill="#111" textLength="11" lengthAdjust="spacingAndGlyphs" style="stroke-width:.42px">(%)</text>
<rect x="308.9" y="363.9" width="3.8" height="3.8" fill="#27427f"/>
<text x="316.1" y="368.2" font-size="7.5" textLength="32.9" lengthAdjust="spacingAndGlyphs" fill="#111" >huMkMPs</text>
<rect x="243.60" y="398.30" width="12.40" height="43.50" fill="#2E4B80"/>
<line x1="249.8" y1="385.0" x2="249.8" y2="411.5" stroke="#111" stroke-width="1.1" />
<line x1="247.3" y1="385.0" x2="252.3" y2="385.0" stroke="#111" stroke-width="1.1" />
<line x1="247.3" y1="411.5" x2="252.3" y2="411.5" stroke="#111" stroke-width="1.1" />
<text x="252.7" y="449.0" font-size="8.3" text-anchor="end" transform="rotate(-45 252.7 449.0)" textLength="58.5" lengthAdjust="spacingAndGlyphs" fill="#111" >CD41+PKH26+</text>
<rect x="283.00" y="381.50" width="12.40" height="60.30" fill="#2E4B80"/>
<line x1="289.2" y1="371.1" x2="289.2" y2="391.6" stroke="#111" stroke-width="1.1" />
<line x1="286.7" y1="371.1" x2="291.7" y2="371.1" stroke="#111" stroke-width="1.1" />
<line x1="286.7" y1="391.6" x2="291.7" y2="391.6" stroke="#111" stroke-width="1.1" />
<text x="292.7" y="448.4" font-size="8.3" text-anchor="end" transform="rotate(-45 292.7 448.4)" textLength="63.5" lengthAdjust="spacingAndGlyphs" fill="#111" >CD117+PKH26+</text>
<rect x="322.40" y="423.80" width="12.40" height="18.00" fill="#2E4B80"/>
<line x1="328.6" y1="412.2" x2="328.6" y2="434.6" stroke="#111" stroke-width="1.1" />
<line x1="326.1" y1="412.2" x2="331.1" y2="412.2" stroke="#111" stroke-width="1.1" />
<line x1="326.1" y1="434.6" x2="331.1" y2="434.6" stroke="#111" stroke-width="1.1" />
<text x="331.6" y="448.4" font-size="8.3" text-anchor="end" transform="rotate(-45 331.6 448.4)" textLength="58.5" lengthAdjust="spacingAndGlyphs" fill="#111" >CD45+PKH26+</text>
</svg>
</body></html>
